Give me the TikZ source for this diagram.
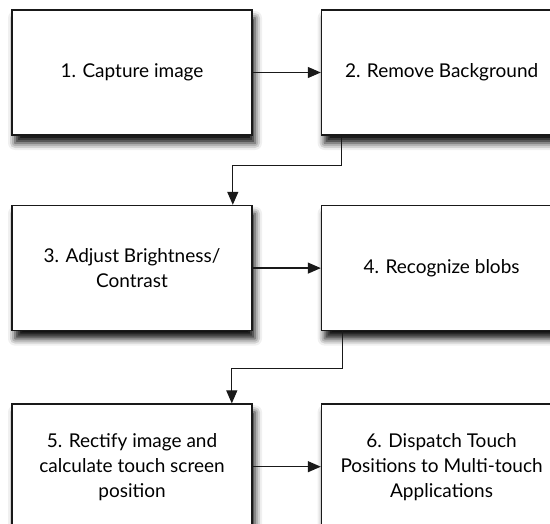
\documentclass[tikz,border=0pt]{standalone}
\usepackage{fontspec}
\setmainfont{Lato}
\usetikzlibrary{positioning,arrows.meta,shadows.blur}

\begin{document}
\begin{tikzpicture}[
    x=1pt, y=-1pt,
    stage/.style = {draw=black!90, fill=white, line width=1.6pt, minimum width=240pt, minimum height=125pt,
                    align=center, font=\fontsize{19}{25}\selectfont,
                    blur shadow={shadow xshift=3pt, shadow yshift=-8pt, shadow blur radius=7pt, shadow opacity=95}},
    > = {Triangle[length=13pt, width=11pt]},
    link/.style = {->, line width=1.2pt, draw=black!90},
    node distance = 69pt and 68pt
]
\useasboundingbox (0,0) rectangle (550,524);
\clip (0,0) rectangle (550,524);
\node (cap) [stage] at (132,72.5) {1. Capture image};
\node (bg) [stage, right=of cap] {2. Remove Background};
\node (adj) [stage, below=of cap] {3. Adjust Brightness/\\Contrast};
\node (blob) [stage, right=of adj] {4. Recognize blobs};
\node (rect) [stage, below=72pt of adj] {5. Rectify image and\\calculate touch screen\\position};
\node (disp) [stage, right=of rect] {6. Dispatch Touch\\Positions to Multi-touch\\Applications};

\draw[link] (cap) to (bg);
\draw[link] (adj) to (blob);
\draw[link] (rect) to (disp);
\draw[link] ([xshift=21pt]bg.south west) -- ++(0,30) -| ([xshift=-20pt]adj.north east);
\draw[link] ([xshift=22pt]blob.south west) -- ++(0,37) -| ([xshift=-21pt]rect.north east);
\end{tikzpicture}
\end{document}
